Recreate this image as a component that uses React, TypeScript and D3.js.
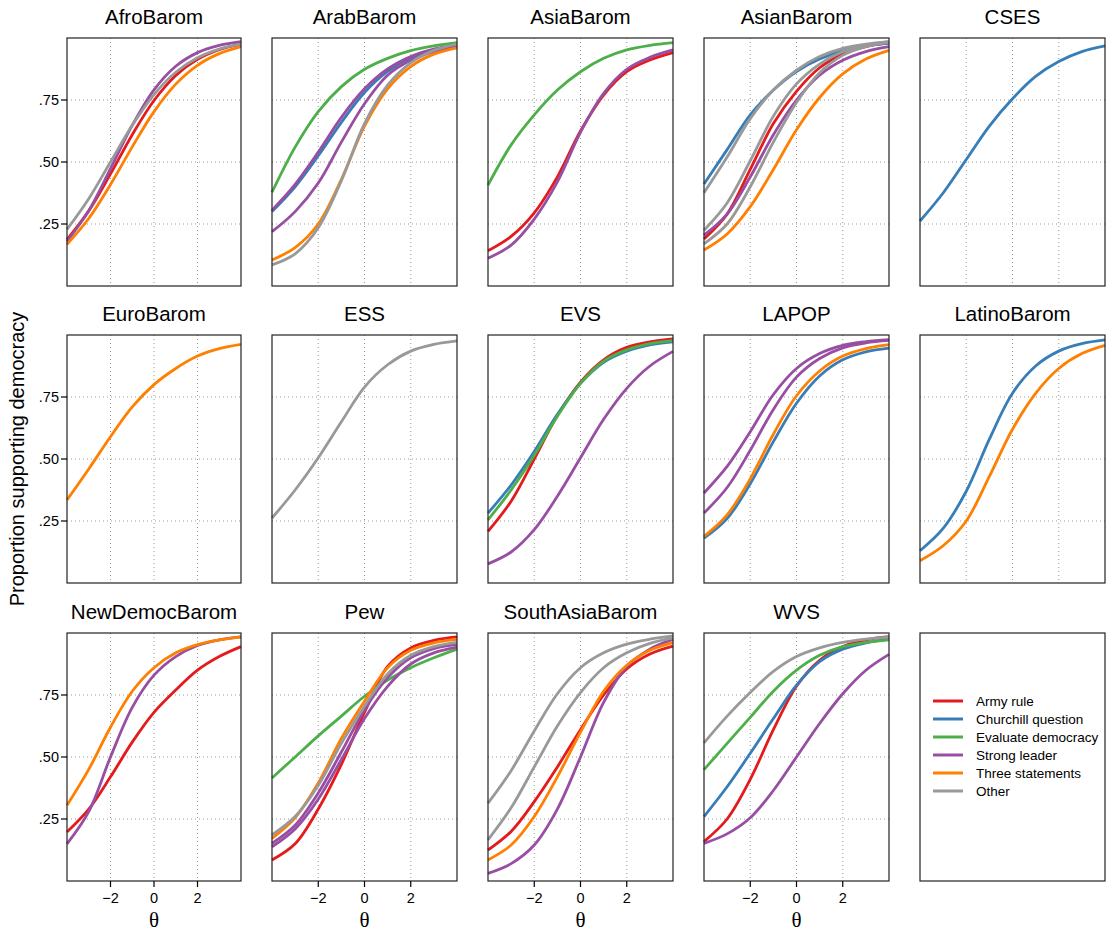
import React from "react";
import * as d3 from "d3";

const thetaPoints = [-4, -3, -2, -1, 0, 1, 2, 3, 4];
const xTicks = [-2, 0, 2];
const yTicks = [0.25, 0.5, 0.75];
const yTickLabels = [".25", ".50", ".75"];

const itemTypes = ["Army rule", "Churchill question", "Evaluate democracy", "Strong leader", "Three statements", "Other"];
const typeColors = ["#E41A1C", "#377EB8", "#4DAF4A", "#984EA3", "#FF7F00", "#999999"];

const surveyNames = [
  "AfroBarom", "ArabBarom", "AsiaBarom", "AsianBarom", "CSES",
  "EuroBarom", "ESS", "EVS", "LAPOP", "LatinoBarom",
  "NewDemocBarom", "Pew", "SouthAsiaBarom", "WVS",
];

const afroBarom = [
  { type: "Army rule", p: [0.187, 0.303, 0.452, 0.61, 0.748, 0.849, 0.914, 0.953, 0.975] },
  { type: "Strong leader", p: [0.18, 0.304, 0.473, 0.648, 0.791, 0.886, 0.941, 0.97, 0.985] },
  { type: "Three statements", p: [0.168, 0.272, 0.409, 0.561, 0.703, 0.814, 0.89, 0.937, 0.965] },
  { type: "Other", p: [0.228, 0.352, 0.5, 0.648, 0.772, 0.862, 0.92, 0.955, 0.975] },
];
const arabBarom = [
  { type: "Churchill question", p: [0.3, 0.4, 0.525, 0.66, 0.78, 0.865, 0.92, 0.952, 0.97] },
  { type: "Evaluate democracy", p: [0.378, 0.56, 0.703, 0.804, 0.874, 0.918, 0.949, 0.968, 0.981] },
  { type: "Strong leader", p: [0.306, 0.41, 0.54, 0.68, 0.795, 0.875, 0.925, 0.955, 0.972] },
  { type: "Strong leader", p: [0.219, 0.3, 0.415, 0.58, 0.735, 0.85, 0.91, 0.945, 0.965] },
  { type: "Three statements", p: [0.105, 0.155, 0.25, 0.43, 0.645, 0.795, 0.885, 0.935, 0.96] },
  { type: "Other", p: [0.085, 0.13, 0.235, 0.425, 0.655, 0.81, 0.9, 0.95, 0.975] },
];
const asiaBarom = [
  { type: "Army rule", p: [0.142, 0.2, 0.295, 0.44, 0.625, 0.77, 0.864, 0.911, 0.941] },
  { type: "Evaluate democracy", p: [0.407, 0.569, 0.69, 0.79, 0.864, 0.918, 0.952, 0.97, 0.981] },
  { type: "Strong leader", p: [0.112, 0.165, 0.27, 0.42, 0.62, 0.777, 0.874, 0.922, 0.952] },
];
const asianBarom = [
  { type: "Army rule", p: [0.19, 0.29, 0.47, 0.655, 0.785, 0.88, 0.935, 0.965, 0.98] },
  { type: "Churchill question", p: [0.411, 0.55, 0.69, 0.79, 0.865, 0.915, 0.948, 0.968, 0.978] },
  { type: "Strong leader", p: [0.205, 0.29, 0.44, 0.61, 0.75, 0.85, 0.91, 0.945, 0.965] },
  { type: "Three statements", p: [0.145, 0.21, 0.32, 0.47, 0.63, 0.76, 0.855, 0.915, 0.95] },
  { type: "Other", p: [0.376, 0.52, 0.675, 0.79, 0.87, 0.925, 0.958, 0.975, 0.985] },
  { type: "Other", p: [0.225, 0.335, 0.505, 0.685, 0.815, 0.895, 0.945, 0.97, 0.985] },
  { type: "Other", p: [0.17, 0.25, 0.4, 0.58, 0.74, 0.86, 0.93, 0.965, 0.982] },
];
const cses = [
  { type: "Churchill question", p: [0.262, 0.375, 0.51, 0.645, 0.755, 0.845, 0.905, 0.945, 0.968] },
];
const euroBarom = [
  { type: "Three statements", p: [0.335, 0.46, 0.59, 0.71, 0.8, 0.865, 0.915, 0.945, 0.962] },
];
const ess = [
  { type: "Other", p: [0.262, 0.375, 0.505, 0.65, 0.79, 0.88, 0.935, 0.962, 0.976] },
];
const evs = [
  { type: "Army rule", p: [0.208, 0.33, 0.5, 0.675, 0.81, 0.9, 0.95, 0.972, 0.984] },
  { type: "Churchill question", p: [0.282, 0.395, 0.53, 0.68, 0.805, 0.89, 0.935, 0.96, 0.972] },
  { type: "Evaluate democracy", p: [0.255, 0.375, 0.515, 0.672, 0.805, 0.895, 0.94, 0.965, 0.977] },
  { type: "Strong leader", p: [0.077, 0.125, 0.215, 0.35, 0.505, 0.66, 0.785, 0.875, 0.934] },
];
const lapop = [
  { type: "Churchill question", p: [0.181, 0.26, 0.4, 0.57, 0.725, 0.835, 0.9, 0.932, 0.947] },
  { type: "Strong leader", p: [0.363, 0.47, 0.61, 0.76, 0.865, 0.925, 0.958, 0.973, 0.981] },
  { type: "Strong leader", p: [0.282, 0.385, 0.535, 0.7, 0.83, 0.905, 0.948, 0.968, 0.978] },
  { type: "Three statements", p: [0.188, 0.275, 0.42, 0.6, 0.755, 0.855, 0.915, 0.945, 0.961] },
];
const latinoBarom = [
  { type: "Churchill question", p: [0.13, 0.22, 0.37, 0.58, 0.765, 0.875, 0.935, 0.965, 0.98] },
  { type: "Three statements", p: [0.09, 0.15, 0.25, 0.43, 0.62, 0.765, 0.865, 0.925, 0.958] },
];
const newDemocBarom = [
  { type: "Army rule", p: [0.198, 0.29, 0.42, 0.56, 0.68, 0.77, 0.85, 0.905, 0.945] },
  { type: "Strong leader", p: [0.15, 0.28, 0.5, 0.7, 0.83, 0.905, 0.95, 0.972, 0.984] },
  { type: "Three statements", p: [0.305, 0.45, 0.62, 0.765, 0.86, 0.92, 0.953, 0.972, 0.984] },
];
const pew = [
  { type: "Army rule", p: [0.085, 0.15, 0.29, 0.47, 0.68, 0.865, 0.94, 0.97, 0.984] },
  { type: "Evaluate democracy", p: [0.415, 0.5, 0.585, 0.665, 0.745, 0.81, 0.86, 0.9, 0.935] },
  { type: "Strong leader", p: [0.152, 0.225, 0.355, 0.52, 0.69, 0.82, 0.9, 0.937, 0.954] },
  { type: "Strong leader", p: [0.138, 0.21, 0.33, 0.49, 0.655, 0.785, 0.875, 0.92, 0.943] },
  { type: "Three statements", p: [0.172, 0.255, 0.395, 0.575, 0.725, 0.86, 0.93, 0.96, 0.974] },
  { type: "Other", p: [0.186, 0.26, 0.385, 0.555, 0.705, 0.835, 0.91, 0.945, 0.962] },
];
const southAsiaBarom = [
  { type: "Army rule", p: [0.125, 0.2, 0.32, 0.46, 0.61, 0.75, 0.855, 0.915, 0.947] },
  { type: "Strong leader", p: [0.031, 0.07, 0.145, 0.29, 0.5, 0.72, 0.865, 0.935, 0.974] },
  { type: "Three statements", p: [0.085, 0.145, 0.26, 0.42, 0.6, 0.765, 0.87, 0.93, 0.961] },
  { type: "Other", p: [0.314, 0.445, 0.605, 0.755, 0.86, 0.92, 0.955, 0.975, 0.988] },
  { type: "Other", p: [0.166, 0.295, 0.46, 0.625, 0.76, 0.86, 0.92, 0.958, 0.98] },
];
const wvs = [
  { type: "Army rule", p: [0.159, 0.25, 0.41, 0.61, 0.785, 0.89, 0.945, 0.972, 0.985] },
  { type: "Churchill question", p: [0.26, 0.38, 0.515, 0.655, 0.79, 0.885, 0.935, 0.96, 0.975] },
  { type: "Evaluate democracy", p: [0.449, 0.555, 0.66, 0.765, 0.85, 0.91, 0.945, 0.962, 0.972] },
  { type: "Strong leader", p: [0.152, 0.19, 0.255, 0.365, 0.5, 0.635, 0.755, 0.85, 0.914] },
  { type: "Other", p: [0.557, 0.665, 0.76, 0.845, 0.905, 0.94, 0.962, 0.975, 0.983] },
];

const panelCurves = [
  afroBarom, arabBarom, asiaBarom, asianBarom, cses,
  euroBarom, ess, evs, lapop, latinoBarom,
  newDemocBarom, pew, southAsiaBarom, wvs,
];

// layout
const colLeft = [67, 272, 488, 704, 920];
const colWidth = [174, 185, 185, 185, 185];
const rowTop = [38, 335, 633];
const panelH = 248;
const font = "'Liberation Sans', Arial, Helvetica, sans-serif";

const color = d3.scaleOrdinal<string, string>().domain(itemTypes).range(typeColors);

function Panel({ idx }: { idx: number }) {
  const col = idx % 5;
  const row = Math.floor(idx / 5);
  const x0 = colLeft[col];
  const w = colWidth[col];
  const y0 = rowTop[row];
  const x = d3.scaleLinear().domain([-4, 4]).range([x0, x0 + w]);
  const y = d3.scaleLinear().domain([0, 1]).range([y0 + panelH, y0]);
  const line = d3
    .line<number>()
    .x((_, i) => x(thetaPoints[i]))
    .y((d) => y(d))
    .curve(d3.curveCatmullRom.alpha(0.5));
  const curves = [...panelCurves[idx]].sort(
    (a, b) => itemTypes.indexOf(a.type) - itemTypes.indexOf(b.type)
  );
  const bottomRow = row === 2;
  return (
    <g>
      <text x={x0 + w / 2} y={y0 - 14} textAnchor="middle" fontSize={20.5} fontFamily={font}>
        {surveyNames[idx]}
      </text>
      {xTicks.map((t) => (
        <line key={"gx" + t} x1={x(t)} x2={x(t)} y1={y0} y2={y0 + panelH}
          stroke="#999" strokeWidth={1} strokeDasharray="1 3" />
      ))}
      {yTicks.map((t) => (
        <line key={"gy" + t} x1={x0} x2={x0 + w} y1={y(t)} y2={y(t)}
          stroke="#999" strokeWidth={1} strokeDasharray="1 3" />
      ))}
      {curves.map((c, i) => (
        <path key={i} d={line(c.p) || ""} fill="none" stroke={color(c.type)} strokeWidth={2.8} />
      ))}
      <rect x={x0} y={y0} width={w} height={panelH} fill="none" stroke="#222" strokeWidth={1.2} />
      {col === 0 &&
        yTicks.map((t, i) => (
          <g key={"yt" + t}>
            <line x1={x0 - 6} x2={x0} y1={y(t)} y2={y(t)} stroke="#000" strokeWidth={1.2} />
            <text x={x0 - 8} y={y(t)} dy="0.35em" textAnchor="end" fontSize={14.5} fontFamily={font}>
              {yTickLabels[i]}
            </text>
          </g>
        ))}
      {bottomRow &&
        xTicks.map((t) => (
          <g key={"xt" + t}>
            <line x1={x(t)} x2={x(t)} y1={y0 + panelH} y2={y0 + panelH + 6} stroke="#000" strokeWidth={1.2} />
            <text x={x(t)} y={y0 + panelH + 22} textAnchor="middle" fontSize={14.5} fontFamily={font}>
              {t < 0 ? "\u2212" + Math.abs(t) : String(t)}
            </text>
          </g>
        ))}
      {bottomRow && (
        <text x={x0 + w / 2} y={y0 + panelH + 46} textAnchor="middle" fontSize={21}
          fontFamily="'Liberation Serif', 'DejaVu Serif', serif">
          θ
        </text>
      )}
    </g>
  );
}

function Legend() {
  const x0 = colLeft[4];
  const y0 = rowTop[2];
  const w = colWidth[4];
  const rowY = d3.scaleBand().domain(itemTypes).range([y0 + 59, y0 + 167]);
  return (
    <g>
      <rect x={x0} y={y0} width={w} height={panelH} fill="none" stroke="#222" strokeWidth={1.2} />
      {itemTypes.map((t) => {
        const cy = (rowY(t) || 0) + rowY.bandwidth() / 2;
        return (
          <g key={t}>
            <line x1={x0 + 13} x2={x0 + 43} y1={cy} y2={cy} stroke={color(t)} strokeWidth={3} />
            <text x={x0 + 56} y={cy} dy="0.35em" fontSize={13.5} fontFamily={font}>
              {t}
            </text>
          </g>
        );
      })}
    </g>
  );
}

export default function App() {
  return (
    <svg width={1109} height={932} style={{ position: "absolute", left: 0, top: 0, background: "#fff" }}>
      <rect width={1109} height={932} fill="#fff" />
      {surveyNames.map((_, i) => (
        <Panel key={i} idx={i} />
      ))}
      <Legend />
      <text transform="translate(24,459) rotate(-90)" textAnchor="middle" fontSize={20} fontFamily={font}>
        Proportion supporting democracy
      </text>
    </svg>
  );
}
